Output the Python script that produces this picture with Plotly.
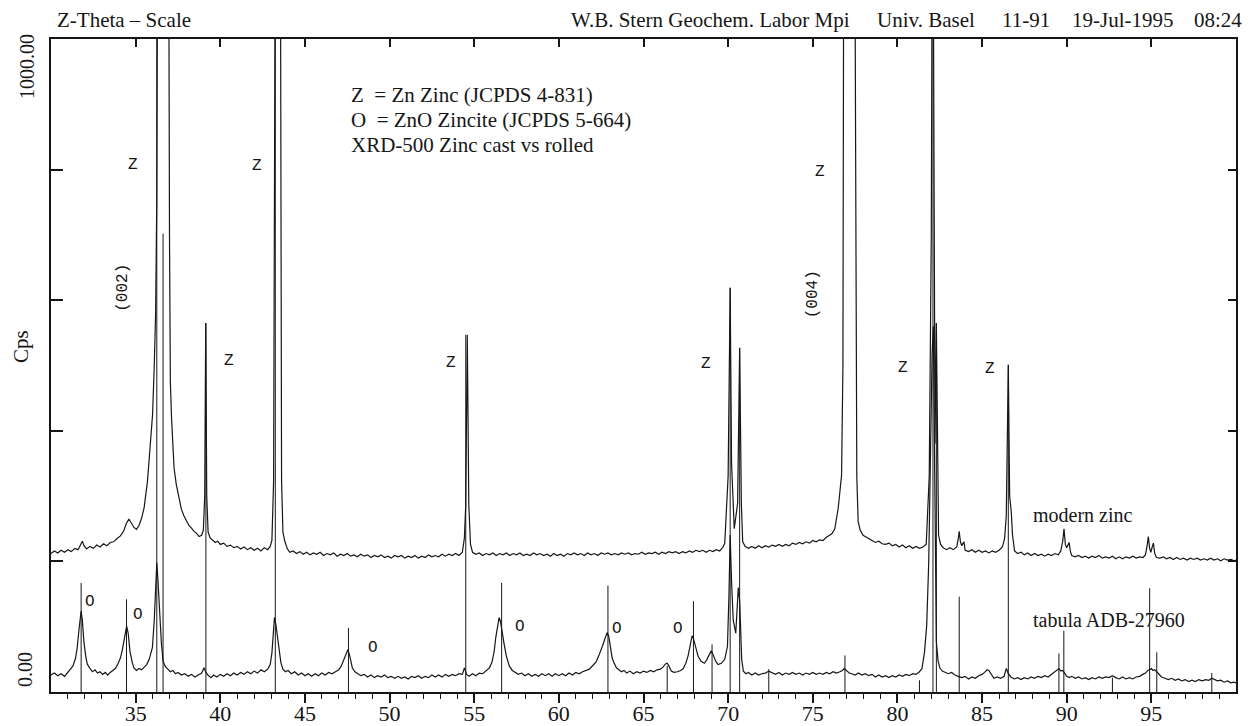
import plotly.graph_objects as go

# ---------------- data ----------------
# modern zinc (upper trace): (2-theta [deg], intensity [cps])
modern_zinc_pts = [
    (30.0, 212), (30.2, 216), (30.4, 213), (30.6, 217), (30.8, 214), (31.0, 218), (31.2, 215),
    (31.4, 220), (31.6, 218), (31.75, 226), (31.85, 231), (31.95, 224), (32.1, 219), (32.3, 223),
    (32.5, 220), (32.7, 225), (32.9, 222), (33.1, 227), (33.3, 224), (33.5, 229), (33.7, 230),
    (33.9, 235), (34.1, 239), (34.3, 247), (34.45, 258), (34.6, 265), (34.75, 259), (34.9, 252),
    (35.05, 249), (35.2, 255), (35.35, 266), (35.5, 282), (35.7, 323), (35.85, 370), (36.0, 425),
    (36.1, 500), (36.18, 580), (36.25, 760), (36.3, 1200), (36.6, 1500), (36.95, 1200), (37.0, 700),
    (37.05, 476), (37.12, 420), (37.2, 384), (37.27, 343), (37.4, 318), (37.55, 296), (37.7, 280),
    (37.85, 270), (38.0, 262), (38.15, 255), (38.3, 251), (38.45, 246), (38.6, 243), (38.75, 238),
    (38.9, 240), (39.0, 248), (39.08, 300), (39.14, 565), (39.2, 300), (39.28, 245), (39.4, 236),
    (39.55, 233), (39.7, 229), (39.85, 231), (40.0, 226), (40.2, 228), (40.4, 223), (40.6, 225),
    (40.8, 221), (41.0, 223), (41.2, 219), (41.4, 222), (41.6, 218), (41.8, 221), (42.0, 217),
    (42.2, 220), (42.4, 216), (42.6, 221), (42.8, 218), (42.95, 223), (43.05, 232), (43.15, 323),
    (43.25, 1200), (43.4, 1500), (43.55, 1200), (43.62, 323), (43.7, 245), (43.8, 232), (43.95, 220),
    (44.1, 214), (44.3, 216), (44.5, 212), (44.7, 215), (44.9, 211), (45.1, 214), (45.3, 210),
    (45.5, 213), (45.7, 211), (45.9, 214), (46.1, 209), (46.3, 212), (46.5, 210), (46.7, 213),
    (46.9, 208), (47.1, 211), (47.3, 209), (47.5, 212), (47.7, 208), (47.9, 210), (48.1, 207),
    (48.3, 211), (48.5, 208), (48.7, 210), (48.9, 206), (49.1, 209), (49.3, 207), (49.5, 210),
    (49.7, 206), (49.9, 208), (50.1, 205), (50.3, 209), (50.5, 207), (50.7, 209), (50.9, 205),
    (51.1, 208), (51.3, 206), (51.5, 209), (51.7, 205), (51.9, 208), (52.1, 206), (52.3, 210),
    (52.5, 207), (52.7, 209), (52.9, 207), (53.1, 211), (53.3, 208), (53.5, 211), (53.7, 209),
    (53.9, 212), (54.1, 209), (54.3, 214), (54.42, 236), (54.5, 287), (54.59, 547), (54.68, 287),
    (54.78, 226), (54.9, 214), (55.1, 211), (55.3, 213), (55.5, 209), (55.7, 212), (55.9, 210),
    (56.1, 213), (56.3, 209), (56.5, 212), (56.7, 210), (56.9, 213), (57.1, 209), (57.3, 212),
    (57.5, 210), (57.7, 213), (57.9, 209), (58.1, 211), (58.3, 209), (58.5, 213), (58.7, 210),
    (58.9, 212), (59.1, 209), (59.3, 211), (59.5, 208), (59.7, 212), (59.9, 209), (60.1, 211),
    (60.3, 208), (60.5, 212), (60.7, 210), (60.9, 213), (61.1, 210), (61.3, 212), (61.5, 209),
    (61.7, 213), (61.9, 210), (62.1, 212), (62.3, 209), (62.5, 213), (62.7, 211), (62.9, 213),
    (63.1, 210), (63.3, 212), (63.5, 210), (63.7, 213), (63.9, 211), (64.1, 213), (64.3, 210),
    (64.5, 212), (64.7, 211), (64.9, 214), (65.1, 211), (65.3, 213), (65.5, 212), (65.7, 214),
    (65.9, 211), (66.1, 214), (66.3, 212), (66.5, 215), (66.7, 213), (66.9, 215), (67.1, 212),
    (67.3, 215), (67.5, 213), (67.7, 216), (67.9, 214), (68.1, 217), (68.3, 215), (68.5, 217),
    (68.7, 214), (68.9, 217), (69.1, 215), (69.3, 218), (69.5, 216), (69.7, 222), (69.8, 228),
    (70.0, 331), (70.12, 619), (70.2, 351), (70.36, 250), (70.56, 289), (70.68, 527), (70.78, 289),
    (70.86, 230), (71.0, 223), (71.2, 220), (71.4, 223), (71.6, 220), (71.8, 224), (72.0, 221),
    (72.2, 224), (72.4, 222), (72.6, 225), (72.8, 223), (73.0, 226), (73.2, 223), (73.4, 226),
    (73.6, 224), (73.8, 228), (74.0, 226), (74.2, 229), (74.4, 227), (74.6, 230), (74.8, 228),
    (75.0, 232), (75.2, 230), (75.4, 233), (75.6, 232), (75.8, 237), (76.0, 240), (76.15, 243),
    (76.3, 250), (76.5, 281), (76.7, 332), (76.78, 500), (76.83, 1200), (77.15, 1500), (77.48, 1200),
    (77.55, 600), (77.6, 330), (77.68, 261), (77.8, 248), (77.97, 240), (78.15, 237), (78.3, 234),
    (78.5, 232), (78.7, 229), (78.9, 231), (79.1, 227), (79.3, 226), (79.5, 228), (79.7, 224),
    (79.9, 226), (80.1, 222), (80.3, 225), (80.5, 221), (80.7, 224), (80.9, 220), (81.1, 223),
    (81.3, 220), (81.5, 222), (81.7, 226), (81.88, 331), (82.0, 700), (82.08, 1400), (82.15, 700),
    (82.22, 380), (82.3, 565), (82.38, 300), (82.43, 240), (82.55, 226), (82.7, 221), (82.9, 218),
    (83.1, 221), (83.3, 218), (83.5, 222), (83.6, 236), (83.65, 246), (83.72, 230), (83.8, 224),
    (83.88, 228), (83.93, 230), (84.0, 217), (84.2, 215), (84.4, 218), (84.6, 214), (84.8, 217),
    (85.0, 214), (85.2, 216), (85.4, 213), (85.6, 216), (85.8, 214), (86.0, 217), (86.2, 222),
    (86.33, 235), (86.43, 270), (86.55, 501), (86.63, 300), (86.72, 277), (86.8, 240), (86.92, 216),
    (87.1, 212), (87.3, 214), (87.5, 210), (87.7, 213), (87.9, 209), (88.1, 212), (88.3, 209),
    (88.5, 211), (88.7, 208), (88.9, 211), (89.1, 209), (89.3, 212), (89.5, 210), (89.65, 216),
    (89.77, 232), (89.84, 250), (89.92, 226), (90.0, 221), (90.08, 226), (90.14, 229), (90.22, 215),
    (90.3, 209), (90.5, 207), (90.7, 209), (90.9, 206), (91.1, 208), (91.3, 205), (91.5, 208),
    (91.7, 206), (91.9, 209), (92.1, 205), (92.3, 207), (92.5, 205), (92.7, 208), (92.9, 204),
    (93.1, 207), (93.3, 204), (93.5, 207), (93.7, 205), (93.9, 208), (94.1, 205), (94.3, 207),
    (94.5, 206), (94.65, 210), (94.75, 224), (94.82, 238), (94.9, 220), (94.97, 214), (95.05, 222),
    (95.12, 228), (95.2, 212), (95.3, 206), (95.5, 205), (95.7, 207), (95.9, 204), (96.1, 206),
    (96.3, 203), (96.5, 206), (96.7, 203), (96.9, 205), (97.1, 202), (97.3, 205), (97.5, 203),
    (97.7, 205), (97.9, 202), (98.1, 204), (98.3, 202), (98.5, 205), (98.7, 202), (98.9, 204),
    (99.1, 201), (99.3, 204), (99.5, 202), (99.7, 203), (99.9, 201), (100.0, 202),
]

# tabula ADB-27960 (lower trace): (2-theta [deg], intensity [cps])
tabula_pts = [
    (30.0, 26), (30.2, 29), (30.4, 25), (30.6, 28), (30.8, 24), (31.0, 30), (31.15, 35),
    (31.3, 40), (31.45, 52), (31.55, 68), (31.65, 95), (31.72, 114), (31.78, 124), (31.85, 110),
    (31.94, 78), (32.05, 55), (32.14, 43), (32.3, 36), (32.45, 31), (32.6, 34), (32.75, 29),
    (32.9, 31), (33.05, 27), (33.2, 30), (33.35, 26), (33.5, 30), (33.65, 33), (33.8, 36),
    (33.95, 43), (34.1, 52), (34.2, 63), (34.3, 78), (34.4, 95), (34.47, 101), (34.56, 90),
    (34.66, 63), (34.8, 45), (34.9, 37), (35.05, 33), (35.2, 36), (35.35, 34), (35.5, 38),
    (35.65, 42), (35.8, 50), (35.9, 58), (35.99, 68), (36.1, 110), (36.18, 170), (36.25, 198),
    (36.32, 170), (36.42, 119), (36.52, 75), (36.62, 47), (36.75, 39), (36.9, 35), (37.05, 31),
    (37.2, 33), (37.35, 28), (37.5, 30), (37.7, 26), (37.9, 28), (38.1, 24), (38.3, 27),
    (38.5, 23), (38.7, 26), (38.9, 29), (39.04, 37), (39.15, 30), (39.3, 25), (39.45, 22),
    (39.6, 26), (39.8, 23), (40.0, 27), (40.2, 24), (40.4, 28), (40.6, 25), (40.8, 29),
    (41.0, 26), (41.2, 30), (41.4, 27), (41.6, 31), (41.8, 28), (42.0, 32), (42.2, 29),
    (42.4, 34), (42.6, 31), (42.8, 35), (42.95, 42), (43.05, 60), (43.12, 90), (43.2, 114),
    (43.28, 104), (43.36, 88), (43.48, 68), (43.58, 45), (43.7, 35), (43.85, 31), (44.0, 33),
    (44.2, 28), (44.4, 31), (44.6, 26), (44.8, 29), (45.0, 25), (45.2, 28), (45.4, 24),
    (45.6, 28), (45.8, 25), (46.0, 29), (46.2, 26), (46.4, 30), (46.6, 28), (46.8, 31),
    (47.0, 34), (47.15, 40), (47.3, 50), (47.42, 60), (47.54, 65), (47.65, 55), (47.8, 37),
    (47.95, 31), (48.1, 28), (48.3, 25), (48.5, 27), (48.7, 23), (48.9, 26), (49.1, 22),
    (49.3, 25), (49.5, 23), (49.7, 26), (49.9, 22), (50.1, 24), (50.3, 21), (50.5, 24),
    (50.7, 21), (50.9, 23), (51.1, 20), (51.3, 24), (51.5, 22), (51.7, 25), (51.9, 21),
    (52.1, 24), (52.3, 22), (52.5, 26), (52.7, 23), (52.9, 26), (53.1, 23), (53.3, 27),
    (53.5, 24), (53.7, 27), (53.9, 25), (54.1, 28), (54.3, 27), (54.42, 37), (54.55, 27),
    (54.7, 24), (54.9, 28), (55.1, 25), (55.3, 29), (55.5, 28), (55.7, 32), (55.9, 37),
    (56.05, 46), (56.18, 62), (56.27, 83), (56.38, 102), (56.47, 114), (56.55, 108), (56.65, 90),
    (56.77, 73), (56.9, 55), (57.07, 40), (57.25, 33), (57.4, 30), (57.6, 27), (57.8, 29),
    (58.0, 25), (58.2, 28), (58.4, 24), (58.6, 27), (58.8, 24), (59.0, 28), (59.2, 25),
    (59.4, 28), (59.6, 24), (59.8, 28), (60.0, 25), (60.2, 28), (60.4, 25), (60.6, 29),
    (60.8, 26), (61.0, 30), (61.2, 28), (61.4, 31), (61.6, 33), (61.8, 35), (61.95, 39),
    (62.1, 44), (62.2, 46), (62.35, 55), (62.5, 64), (62.6, 72), (62.7, 80), (62.85, 91),
    (62.95, 85), (63.05, 66), (63.15, 52), (63.25, 45), (63.4, 37), (63.55, 34), (63.7, 31),
    (63.85, 33), (64.0, 29), (64.2, 32), (64.4, 28), (64.6, 31), (64.8, 29), (65.0, 32),
    (65.2, 30), (65.4, 33), (65.6, 31), (65.8, 34), (66.0, 35), (66.15, 38), (66.3, 43),
    (66.4, 44), (66.5, 40), (66.64, 32), (66.8, 30), (67.0, 31), (67.2, 33), (67.35, 36),
    (67.5, 44), (67.63, 55), (67.75, 72), (67.87, 86), (67.95, 82), (68.1, 64), (68.22, 55),
    (68.4, 47), (68.6, 44), (68.75, 50), (68.88, 58), (69.0, 63), (69.1, 58), (69.25, 48),
    (69.4, 42), (69.6, 44), (69.8, 50), (69.96, 70), (70.05, 150), (70.12, 240), (70.2, 170),
    (70.3, 110), (70.45, 90), (70.6, 160), (70.68, 140), (70.8, 50), (70.9, 32), (71.05, 28),
    (71.2, 30), (71.4, 26), (71.6, 29), (71.8, 26), (72.0, 28), (72.2, 29), (72.4, 32),
    (72.6, 29), (72.8, 27), (73.0, 30), (73.2, 26), (73.4, 29), (73.6, 27), (73.8, 30),
    (74.0, 27), (74.2, 29), (74.4, 26), (74.6, 29), (74.8, 27), (75.0, 30), (75.2, 27),
    (75.4, 29), (75.6, 27), (75.8, 30), (76.0, 28), (76.2, 31), (76.4, 29), (76.6, 31),
    (76.75, 33), (76.86, 36), (77.0, 33), (77.15, 29), (77.3, 28), (77.5, 26), (77.7, 29),
    (77.9, 26), (78.1, 28), (78.3, 25), (78.5, 27), (78.7, 23), (78.9, 26), (79.1, 23),
    (79.3, 25), (79.5, 22), (79.7, 25), (79.9, 23), (80.1, 26), (80.3, 24), (80.5, 27),
    (80.7, 25), (80.9, 28), (81.1, 27), (81.3, 31), (81.45, 36), (81.6, 61), (81.73, 102),
    (81.85, 200), (81.95, 400), (82.05, 520), (82.12, 560), (82.2, 380), (82.3, 77), (82.4, 48),
    (82.5, 37), (82.65, 32), (82.8, 30), (83.0, 28), (83.2, 30), (83.4, 26), (83.6, 24),
    (83.8, 22), (84.0, 24), (84.2, 20), (84.4, 23), (84.6, 21), (84.8, 25), (85.0, 27),
    (85.15, 30), (85.3, 34), (85.4, 33), (85.55, 27), (85.7, 21), (85.9, 23), (86.1, 21),
    (86.3, 24), (86.43, 36), (86.55, 28), (86.7, 23), (86.9, 20), (87.1, 22), (87.3, 19),
    (87.5, 22), (87.7, 20), (87.9, 23), (88.1, 21), (88.3, 24), (88.5, 22), (88.7, 25),
    (88.9, 23), (89.1, 27), (89.3, 30), (89.42, 33), (89.54, 36), (89.65, 32), (89.75, 33),
    (89.85, 30), (89.99, 24), (90.15, 22), (90.3, 24), (90.5, 21), (90.7, 23), (90.9, 20),
    (91.1, 22), (91.3, 19), (91.5, 22), (91.7, 20), (91.9, 23), (92.1, 21), (92.3, 23),
    (92.5, 22), (92.7, 25), (92.9, 22), (93.1, 20), (93.3, 23), (93.5, 20), (93.7, 22),
    (93.9, 20), (94.1, 23), (94.3, 24), (94.5, 27), (94.65, 29), (94.8, 33), (94.9, 34),
    (95.0, 36), (95.1, 33), (95.2, 34), (95.32, 31), (95.45, 27), (95.6, 23), (95.8, 21),
    (96.0, 19), (96.2, 21), (96.4, 18), (96.6, 20), (96.8, 17), (97.0, 19), (97.2, 16),
    (97.4, 18), (97.6, 16), (97.8, 19), (98.0, 17), (98.2, 19), (98.4, 18), (98.57, 21),
    (98.7, 19), (98.9, 17), (99.1, 18), (99.3, 15), (99.5, 17), (99.7, 14), (99.86, 15),
    (100.0, 14),
]

two_theta_modern = [p[0] for p in modern_zinc_pts]
cps_modern = [p[1] for p in modern_zinc_pts]
two_theta_tabula = [p[0] for p in tabula_pts]
cps_tabula = [p[1] for p in tabula_pts]

# peak-marker sticks drawn from the axis: position [deg] and top [cps]
stick_theta = [31.78, 34.46, 36.25, 36.62, 39.15, 43.25, 47.57, 54.5, 56.62, 62.9, 66.4,
               67.95, 69.05, 70.12, 70.68, 72.4, 76.9, 81.3, 82.1, 82.3, 83.65, 86.55,
               89.54, 89.83, 92.7, 94.9, 95.32, 98.57]
stick_top = [167, 142, 1000, 702, 565, 1000, 98, 547, 167, 163, 40,
             139, 73, 619, 527, 35, 56, 18, 1000, 565, 146, 501,
             59, 94, 22, 159, 61, 29]

# phase labels: Z = Zn, O = ZnO (position in deg / cps)
z_theta = [34.83, 42.15, 40.53, 53.61, 68.69, 75.42, 80.34, 85.46]
z_cps = [807, 805, 507, 504, 502, 797, 496, 494]
o_theta = [32.30, 35.16, 49.04, 57.70, 63.45, 67.05]
o_cps = [138, 118, 67, 99, 97, 96]
hkl_text = ["(002)", "(004)"]
hkl_theta = [34.25, 75.01]
hkl_cps = [619, 609]

# axes
x_range = [30, 100]
y_range = [0, 1000]
x_major = [35, 40, 45, 50, 55, 60, 65, 70, 75, 80, 85, 90, 95]
x_major_text = ["35", "40", "45", "50", "55", "60", "65", "70", "75", "80", "85", "90", "95"]
x_minor = [v for v in range(31, 100) if v % 5 != 0]
y_ticks = [200, 400, 600, 800]

series_names = ["modern zinc", "tabula ADB-27960"]
legend_lines = ["Z\u00a0 = Zn Zinc (JCPDS 4-831)", "O\u00a0 = ZnO Zincite (JCPDS 5-664)",
                "XRD-500 Zinc cast vs rolled"]
header_left = "Z-Theta \u2013 Scale"
header_right = ["W.B. Stern Geochem. Labor Mpi", "Univ. Basel", "11-91", "19-Jul-1995", "08:24"]

# ---------------- figure ----------------
W, H = 1248, 726
ML, MR, MT, MB = 51, 12, 39, 34
PW, PH = W - ML - MR, H - MT - MB
INK = "#161616"
SERIF = "Liberation Serif, Times New Roman, serif"
MONO = "Liberation Mono, Courier New, monospace"


def px(xp):
    return (xp - ML) / PW


def py(yp):
    return (H - MB - yp) / PH


def label(xp, yp, text, size, family=SERIF, xanchor="left", angle=0):
    return dict(x=px(xp), y=py(yp), xref="paper", yref="paper", text=text, showarrow=False,
                xanchor=xanchor, yanchor="middle", textangle=angle,
                font=dict(family=family, size=size, color=INK))


fig = go.Figure()

sx, sy = [], []
for t, top in zip(stick_theta, stick_top):
    sx += [t, t, None]
    sy += [0, top, None]
fig.add_trace(go.Scatter(x=sx, y=sy, mode="lines", line=dict(color=INK, width=1),
                         hoverinfo="skip", showlegend=False))
fig.add_trace(go.Scatter(x=two_theta_modern, y=cps_modern, mode="lines", name=series_names[0],
                         line=dict(color=INK, width=1.2), showlegend=False))
fig.add_trace(go.Scatter(x=two_theta_tabula, y=cps_tabula, mode="lines", name=series_names[1],
                         line=dict(color=INK, width=1.2), showlegend=False))
# helper trace so the mirrored top / right axes get drawn
fig.add_trace(go.Scatter(x=x_range, y=y_range, xaxis="x2", yaxis="y2", mode="lines",
                         line=dict(width=0), opacity=0, hoverinfo="skip", showlegend=False))

ann = []
for t, c in zip(z_theta, z_cps):
    ann.append(dict(x=t, y=c, xref="x", yref="y", text="Z", showarrow=False,
                    xanchor="center", yanchor="middle",
                    font=dict(family=MONO, size=16, color=INK)))
for t, c in zip(o_theta, o_cps):
    ann.append(dict(x=t, y=c, xref="x", yref="y", text="O", showarrow=False,
                    xanchor="center", yanchor="middle",
                    font=dict(family=MONO, size=16, color=INK)))
for s, t, c in zip(hkl_text, hkl_theta, hkl_cps):
    ann.append(dict(x=t, y=c, xref="x", yref="y", text=s, showarrow=False, textangle=-90,
                    xanchor="center", yanchor="middle",
                    font=dict(family=MONO, size=16, color=INK)))

# series names
ann.append(label(1031, 515, series_names[0], 20))
ann.append(label(1031, 620, series_names[1], 20))

# legend block
for i, line in enumerate(legend_lines):
    ann.append(label(349, 95 + 25 * i, line, 21))

# header
ann.append(label(55, 20, header_left, 21))
ann.append(label(852, 20, header_right[0], 21, xanchor="right"))
for txt, xl in zip(header_right[1:], [875, 1000, 1070, 1192]):
    ann.append(label(xl, 20, txt, 21))

# y-axis labels
ann.append(label(27, 67, "1000.00", 20, xanchor="center", angle=-90))
ann.append(label(25, 670, "0.00", 20, xanchor="center", angle=-90))
ann.append(label(21, 347, "Cps", 21, xanchor="center", angle=-90))

fig.update_layout(
    width=W, height=H,
    margin=dict(l=ML, r=MR, t=MT, b=MB, pad=0, autoexpand=False),
    paper_bgcolor="white", plot_bgcolor="white",
    showlegend=False,
    annotations=ann,
    xaxis=dict(range=x_range, showgrid=False, zeroline=False, showline=True, linecolor=INK,
               linewidth=2, mirror=True, ticks="outside", ticklen=9, tickwidth=1.5,
               tickcolor=INK, tickvals=x_major, ticktext=x_major_text, automargin=False,
               ticklabelstandoff=-8,
               tickfont=dict(family=SERIF, size=22, color=INK),
               minor=dict(tickvals=x_minor, ticks="outside", ticklen=5, tickwidth=1.2,
                          tickcolor=INK, showgrid=False)),
    xaxis2=dict(range=x_range, overlaying="x", side="top", showgrid=False, zeroline=False,
                showline=False, ticks="inside", ticklen=8, tickwidth=1.5, tickcolor=INK,
                tickvals=x_major, showticklabels=False, automargin=False),
    yaxis=dict(range=y_range, showgrid=False, zeroline=False, showline=True, linecolor=INK,
               linewidth=2, mirror=True, ticks="inside", ticklen=12, tickwidth=1.5,
               tickcolor=INK, tickvals=y_ticks, showticklabels=False, automargin=False),
    yaxis2=dict(range=y_range, overlaying="y", side="right", showgrid=False, zeroline=False,
                showline=False, ticks="inside", ticklen=8, tickwidth=1.5, tickcolor=INK,
                tickvals=y_ticks, showticklabels=False, automargin=False),
)

fig.write_html("out.html",
               config={"displayModeBar": False},
               post_script="document.body.style.margin='0px';"
                           "document.body.style.padding='0px';"
                           "document.body.style.overflow='hidden';")
